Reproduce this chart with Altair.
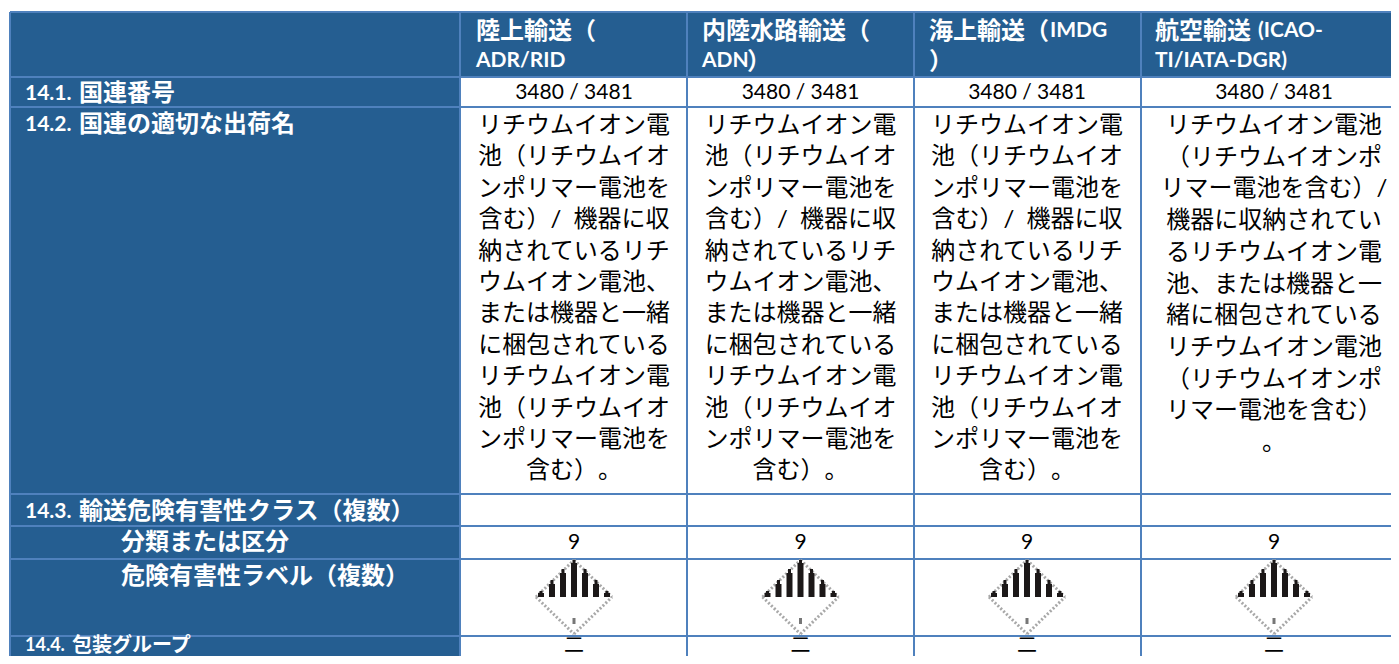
import altair as alt
import pandas as pd

FONT = "Lato, 'Noto Sans CJK JP', sans-serif"
HEAD = "#255e91"
LINE = "#4f81bd"
CHART_W, CHART_H = 1383, 648

col_edges = [10, 460, 687, 914, 1141, 1410]
row_edges = [12, 77, 107, 494, 526, 559, 636, 670]
col_centers = [574, 800.5, 1027, 1274]

un_no = "3480 / 3481"
class_no = "9"
group = "二"

# (text, left, middle, cjk?)
head_cells = [
    ("陸上輸送（", 476, 32, 1), ("ADR/RID", 476, 61, 0),
    ("内陸水路輸送（", 702, 32, 1), ("ADN", 702, 61, 0), ("）", 747, 62, 1),
    ("海上輸送（", 929, 32, 1), ("IMDG", 1050, 31, 0), ("）", 929, 62, 1),
    ("航空輸送", 1155, 32, 1), ("(ICAO-", 1258, 31, 0), ("TI/IATA-DGR)", 1155, 61, 0),
]
label_cells = [
    ("14.1.", 25, 94, 0), ("国連番号", 79, 94, 1),
    ("14.2.", 25, 125, 0), ("国連の適切な出荷名", 79, 125, 1),
    ("14.3.", 25, 512, 0), ("輸送危険有害性クラス（複数）", 79, 512, 1),
    ("分類または区分", 121, 543, 1),
    ("危険有害性ラベル（複数）", 121, 577, 1),
]
last_label = [("14.4.", 25, 646, 0), ("包装グループ", 72, 646, 1)]
name_a = ["リチウムイオン電", "池（リチウムイオ", "ンポリマー電池を", "含む）/\u2002機器に収", "納されているリチ", "ウムイオン電池、",
          "または機器と一緒", "に梱包されている", "リチウムイオン電", "池（リチウムイオ", "ンポリマー電池を", "含む）\u200b。"]
name_b = ["リチウムイオン電池", "（リチウムイオンポ", "リマー電池を含む）/", "機器に収納されてい", "るリチウムイオン電", "池、または機器と一",
          "緒に梱包されている", "リチウムイオン電池", "（リチウムイオンポ", "リマー電池を含む）", "。"]

x_s = alt.Scale(domain=[8, 8 + CHART_W], range=[0, CHART_W])
y_s = alt.Scale(domain=[8, 8 + CHART_H], range=[0, CHART_H])
X = alt.X("x:Q", scale=x_s, axis=None)
Y = alt.Y("y:Q", scale=y_s, axis=None)

fills = pd.DataFrame([
    dict(x=col_edges[0], x2=col_edges[-1], y=row_edges[0], y2=row_edges[1]),
    dict(x=col_edges[0], x2=col_edges[1], y=row_edges[0], y2=row_edges[-1]),
])
fill_layer = alt.Chart(fills).mark_rect(color=HEAD).encode(X, alt.X2("x2:Q"), Y, alt.Y2("y2:Q"))

h = [dict(x=col_edges[0], x2=col_edges[-1], y=r, y2=r) for r in row_edges[:-1]]
v = [dict(x=c, x2=c, y=row_edges[0], y2=row_edges[-1]) for c in col_edges[:-1]]
grid = alt.Chart(pd.DataFrame(h + v)).mark_rule(color=LINE, strokeWidth=2).encode(X, alt.X2("x2:Q"), Y, alt.Y2("y2:Q"))


def text_layer(rows, **kw):
    return alt.Chart(pd.DataFrame(rows)).mark_text(font=FONT, baseline="middle", **kw).encode(X, Y, text="t:N")


bold_cells = head_cells + label_cells
bold_cjk = text_layer([dict(x=a, y=b, t=t) for t, a, b, k in bold_cells if k], align="left", color="white", fontWeight="bold", fontSize=24)
bold_lat = text_layer([dict(x=a, y=b, t=t) for t, a, b, k in bold_cells if not k], align="left", color="white", fontWeight="bold", fontSize=21)
last_cjk = text_layer([dict(x=a, y=b, t=t) for t, a, b, k in last_label if k], align="left", color="white", fontWeight="bold", fontSize=20)
last_lat = text_layer([dict(x=a, y=b, t=t) for t, a, b, k in last_label if not k], align="left", color="white", fontWeight="bold", fontSize=18)

num_rows = []
for c in col_centers:
    num_rows += [dict(x=c, y=93, t=un_no), dict(x=c, y=543, t=class_no)]
num_t = text_layer(num_rows, align="center", color="black", fontSize=21)
group_t = text_layer([dict(x=c, y=646, t=group) for c in col_centers], align="center", color="black", fontSize=20)

body_rows = []
for c in col_centers[:3]:
    body_rows += [dict(x=c, y=126 + 31.4 * i, t=s) for i, s in enumerate(name_a)]
body_rows += [dict(x=col_centers[3], y=126 + 31.7 * i, t=s) for i, s in enumerate(name_b)]
body_t = text_layer(body_rows, align="center", color="black", fontSize=24)

# hazard label: stripes in the upper half, dotted edge in the lower half
bar_dx = [0, -11, 11, -22, 22, -33, 33]
bar_top = [563, 573, 573, 584, 584, 593, 593]
tip_top = [560, 569, 569, 580, 580, 591, 591]
bars, tips = [], []
for c in col_centers:
    bars += [dict(x=c + d, y=t, y2=597) for d, t in zip(bar_dx, bar_top)]
    tips += [dict(x=c + d, y=t, y2=597) for d, t in zip(bar_dx, tip_top)]
stripes = alt.Chart(pd.DataFrame(bars)).mark_rule(color="#1c1818", strokeWidth=6).encode(X, Y, alt.Y2("y2:Q"))
stripe_tips = alt.Chart(pd.DataFrame(tips)).mark_rule(color="#1c1818", strokeWidth=3).encode(X, Y, alt.Y2("y2:Q"))

edges = []
for c in col_centers:
    edges += [
        dict(x=c - 38, x2=c, y=597, y2=634), dict(x=c, x2=c + 38, y=634, y2=597),
        dict(x=c - 38, x2=c, y=597, y2=560), dict(x=c, x2=c + 38, y=560, y2=597),
    ]
outline = alt.Chart(pd.DataFrame(edges)).mark_rule(color="#a8a8a8", strokeWidth=3, strokeDash=[2, 2]).encode(X, alt.X2("x2:Q"), Y, alt.Y2("y2:Q"))
inner = alt.Chart(pd.DataFrame([dict(x=c, y=618, y2=624) for c in col_centers])).mark_rule(color="#777777", strokeWidth=3).encode(X, Y, alt.Y2("y2:Q"))

chart = alt.layer(fill_layer, grid, outline, stripes, stripe_tips, inner, bold_cjk, bold_lat, last_cjk, last_lat, num_t, group_t, body_t).properties(
    width=CHART_W, height=CHART_H, padding=0, autosize=alt.AutoSizeParams(type="none")
).configure_view(stroke=None)

chart.save("out.html", embed_options={"renderer": "svg", "actions": False})
